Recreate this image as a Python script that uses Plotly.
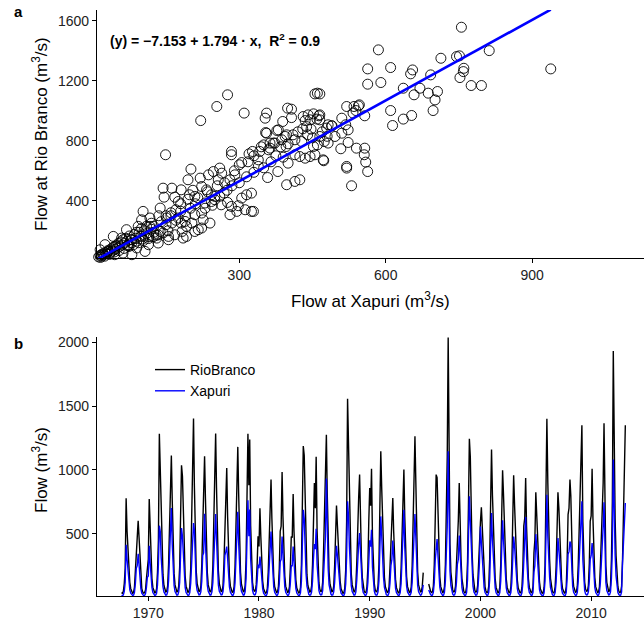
import pandas as pd
import plotly.graph_objects as go

# ---------------- Panel a: scatter Rio Branco vs Xapuri ----------------
xapuri_scatter = [
    755, 585, 812, 713, 745, 751, 563, 610, 655, 651, 692, 760, 759, 752, 938, 563, 590, 636, 670, 658,
    687, 706, 701, 697, 775, 796, 610, 614, 636, 653, 520, 544, 539, 557, 533, 510, 518, 489, 479, 496,
    465, 523, 508, 557, 473, 520, 559, 563, 530, 465, 465, 465,
    455, 460, 276, 254, 221, 310, 356, 353, 399, 407, 407, 389, 441, 452, 463, 459, 435, 447, 482, 490,
    535, 546, 354, 377, 397, 387, 414, 428, 363, 373, 342, 327, 284, 284, 320, 339, 305, 339, 358, 379,
    390, 400, 414, 424, 435, 445, 455, 452, 460, 474, 482, 510, 523, 540, 556, 520, 472, 397, 414, 424,
    149, 201, 195, 220, 237, 247, 260, 264, 257, 281, 291, 144, 162, 181, 146, 168, 175, 198, 209, 223,
    233, 243, 250, 263, 269, 276, 284, 298, 305, 315, 325, 295, 312, 325, 281, 329,
    69, 93, 103, 117, 138, 117, 138, 151, 162, 175, 181, 192, 183, 203, 209, 223, 226, 240, 216, 192,
    42, 59, 80, 100, 25, 15, 45, 73, 90, 114, 134, 155, 168, 107, 32, 62, 80, 18, 45, 100,
    189, 230, 243, 250, 209, 223, 185, 131, 155,
    356, 370, 350, 363, 380, 394, 396, 445, 431, 438,
    12, 15, 18, 20, 22, 25, 28, 30, 32, 35, 38, 40, 42, 45, 48, 50, 52, 55, 58, 60,
    62, 65, 68, 70, 72, 75, 78, 80, 85, 88, 90, 95, 98, 102, 105, 110, 115, 120, 125, 130,
    16, 24, 34, 44, 54, 64, 74, 84, 94, 104, 114, 124, 134, 144, 154, 140, 150, 160, 170, 180,
    190, 200, 210, 125, 135,
    215, 235, 255, 270, 290, 300, 318, 330, 345, 360, 375, 385, 400, 410, 420, 430, 440, 450, 470, 480,
    230, 245, 260, 275, 285, 300, 315, 330, 350, 365, 180, 195, 205, 170, 160, 150, 120, 110, 100, 90,
]
riobranco_scatter = [
    1558, 1407, 1402, 1351, 1362, 1367, 1280, 1289, 1273, 1247, 1240, 1284, 1262, 1222, 1280, 1178, 1189, 1151, 1151, 1107,
    1118, 1129, 1073, 1002, 1169, 1169, 1002, 902, 945, 969, 1029, 1033, 1002, 967, 985, 951, 907, 900, 885, 829,
    829, 789, 747, 751, 667, 629, 658, 595, 500, 973, 940, 1113,
    1113, 1118, 1107, 1029, 935, 985, 985, 951, 1018, 1011, 955, 929, 973, 980, 967, 945, 935, 878, 907, 900,
    1029, 1040, 855, 869, 840, 807, 807, 795, 785, 785, 729, 729, 729, 707, 713, 673, 655, 629, 555, 595,
    691, 651, 707, 695, 684, 695, 707, 762, 773, 795, 785, 851, 873, 751, 707, 618, 673, 507, 529, 540,
    707, 611, 540, 551, 573, 595, 618, 584, 540, 540, 573, 484, 484, 473, 424, 424, 395, 440, 429, 495,
    473, 440, 407, 373, 451, 389, 362, 367, 418, 440, 451, 329, 340, 329, 307, 329,
    207, 229, 329, 285, 351, 229, 195, 285, 251, 285, 251, 229, 195, 251, 307, 318, 273, 251, 207, 162,
    162, 151, 140, 162, 107, 73, 95, 107, 85, 107, 118, 140, 173, 62, 62, 51, 40, 40, 40, 273,
    262, 385, 395, 429, 195, 218, 151, 151, 162,
    851, 785, 773, 751, 873, 829, 762, 940, 962, 895,
    25, 35, 30, 45, 38, 55, 48, 60, 70, 52, 80, 65, 90, 75, 100, 85, 115, 95, 125, 105,
    140, 118, 150, 130, 100, 165, 140, 120, 175, 150, 130, 190, 165, 145, 200, 180, 160, 210, 190, 170,
    22, 30, 42, 58, 68, 82, 95, 108, 120, 135, 148, 160, 172, 185, 200, 260, 240, 300, 270, 330,
    300, 350, 380, 230, 300,
    420, 460, 500, 520, 600, 640, 660, 700, 760, 740, 700, 760, 780, 840, 860, 880, 840, 820, 860, 830,
    350, 370, 430, 470, 500, 520, 560, 590, 620, 660, 380, 410, 470, 340, 320, 300, 250, 230, 215, 190,
]
fit_intercept = -7.153
fit_slope = 1.794
fit_r2 = 0.9
scatter_x_ticks = [300, 600, 900]
scatter_y_ticks = [400, 800, 1200, 1600]

# ---------------- Panel b: monthly flow series (from Aug 1967) ----------------
series_start = "1967-08-01"
riobranco_flow = [
    40, 35, 50, 110, 230,                                        # 1967 Aug-Dec
    777, 520, 380, 230, 120, 70, 45, 35, 40, 80, 210, 420,       # 1968
    470, 602, 466, 260, 130, 70, 45, 35, 38, 60, 150, 270,       # 1969
    300, 772, 520, 300, 150, 80, 50, 38, 40, 70, 200, 450,       # 1970
    1283, 1028, 700, 380, 180, 95, 60, 45, 50, 90, 260, 600,     # 1971
    850, 1112, 760, 400, 190, 100, 60, 45, 50, 90, 240, 520,     # 1972
    1036, 950, 620, 330, 170, 90, 55, 42, 48, 85, 230, 560,      # 1973
    900, 1403, 880, 450, 210, 110, 65, 48, 50, 90, 260, 580,     # 1974
    700, 1107, 780, 420, 200, 100, 60, 45, 48, 90, 250, 560,     # 1975
    850, 1285, 860, 450, 210, 110, 65, 48, 50, 95, 270, 600,     # 1976
    832, 1015, 640, 340, 170, 90, 55, 42, 45, 85, 240, 560,      # 1977
    780, 1180, 820, 430, 200, 105, 62, 46, 50, 95, 300, 700,     # 1978
    1283, 880, 1238, 560, 240, 120, 70, 50, 52, 100, 260, 480,   # 1979
    400, 699, 480, 260, 130, 70, 45, 35, 38, 70, 200, 450,       # 1980
    700, 924, 620, 330, 165, 85, 52, 40, 44, 80, 230, 520,       # 1981
    560, 984, 640, 340, 170, 88, 54, 42, 45, 85, 240, 479,       # 1982
    470, 811, 520, 280, 140, 75, 48, 37, 40, 80, 260, 650,       # 1983
    1186, 1115, 700, 360, 180, 95, 58, 44, 48, 90, 260, 560,     # 1984
    898, 700, 1102, 520, 230, 115, 65, 48, 50, 120, 374, 640,    # 1985
    860, 1275, 820, 420, 200, 105, 62, 46, 50, 90, 250, 500,     # 1986
    722, 560, 420, 250, 130, 70, 45, 34, 38, 75, 220, 600,       # 1987
    1557, 1186, 760, 380, 190, 100, 60, 45, 50, 95, 280, 620,    # 1988
    780, 963, 600, 320, 160, 85, 52, 40, 44, 85, 240, 600,       # 1989
    859, 720, 1008, 480, 220, 110, 62, 46, 50, 90, 260, 620,     # 1990
    1146, 850, 560, 300, 160, 85, 52, 40, 44, 85, 240, 480,      # 1991
    610, 780, 520, 290, 145, 78, 48, 37, 40, 80, 230, 520,       # 1992
    893, 1002, 640, 330, 165, 86, 52, 40, 44, 85, 250, 560,      # 1993
    700, 1264, 919, 420, 200, 100, 60, 45, 48, 90, 196, None,    # 1994
    None, None, None, None, 107, 70, 50, 40, 45, 90, 260, 600,   # 1995
    963, 940, 620, 330, 165, 86, 52, 40, 44, 85, 260, 700,       # 1996
    1100, 2036, 900, 420, 200, 100, 60, 45, 48, 90, 250, 531,    # 1997
    600, 898, 560, 300, 150, 80, 50, 38, 42, 85, 280, 700,       # 1998
    1243, 1100, 700, 360, 180, 95, 58, 44, 48, 95, 300, 450,     # 1999
    589, 707, 560, 320, 160, 85, 52, 40, 44, 90, 300, 700,       # 2000
    1159, 800, 520, 290, 150, 80, 50, 38, 42, 85, 260, 600,      # 2001
    997, 800, 520, 290, 150, 80, 50, 38, 42, 85, 250, 620,       # 2002
    958, 720, 480, 270, 140, 75, 48, 37, 40, 80, 240, 560,       # 2003
    620, 937, 560, 300, 150, 80, 50, 38, 42, 90, 351, 450,       # 2004
    824, 600, 400, 240, 125, 68, 44, 34, 38, 80, 250, 700,       # 2005
    1400, 900, 560, 300, 150, 80, 50, 38, 42, 85, 240, 520,      # 2006
    824, 700, 460, 260, 135, 72, 46, 36, 40, 85, 300, 650,       # 2007
    700, 924, 798, 380, 180, 90, 55, 42, 46, 90, 260, 560,       # 2008
    793, 1000, 1350, 600, 250, 120, 68, 50, 52, 95, 270, 600,    # 2009
    640, 1008, 620, 320, 160, 84, 52, 40, 44, 85, 250, 500,      # 2010
    696, 900, 1364, 600, 250, 120, 68, 50, 52, 95, 300, 750,     # 2011
    1931, 1100, 620, 330, 165, 86, 52, 40, 44, 90, 300, 600,     # 2012
    958, 1350,                                                   # 2013 Jan-Feb
]
xapuri_flow = [
    18, 15, 22, 50, 120,                                         # 1967 Aug-Dec
    414, 300, 210, 120, 60, 35, 22, 18, 20, 40, 110, 230,        # 1968
    250, 343, 263, 150, 70, 35, 22, 16, 18, 30, 80, 160,         # 1969
    170, 406, 280, 160, 80, 40, 25, 18, 20, 35, 100, 260,        # 1970
    563, 518, 320, 180, 85, 45, 28, 20, 22, 45, 130, 350,        # 1971
    450, 702, 420, 200, 95, 48, 28, 20, 22, 45, 120, 300,        # 1972
    545, 480, 310, 160, 80, 40, 25, 18, 20, 40, 115, 300,        # 1973
    380, 584, 530, 250, 110, 55, 30, 22, 24, 45, 130, 330,       # 1974
    350, 657, 430, 210, 100, 50, 28, 20, 22, 45, 120, 310,       # 1975
    400, 655, 460, 220, 100, 50, 30, 22, 24, 48, 130, 330,       # 1976
    360, 400, 310, 170, 85, 42, 25, 18, 20, 40, 115, 300,        # 1977
    360, 673, 430, 210, 100, 50, 28, 20, 22, 48, 150, 420,       # 1978
    762, 480, 690, 300, 120, 58, 32, 22, 24, 48, 130, 260,       # 1979
    230, 322, 250, 140, 70, 35, 22, 16, 18, 35, 100, 250,        # 1980
    330, 518, 350, 180, 85, 42, 25, 18, 20, 40, 110, 280,        # 1981
    300, 479, 340, 175, 85, 42, 25, 18, 20, 40, 115, 250,        # 1982
    250, 400, 280, 150, 72, 36, 22, 16, 18, 38, 130, 330,        # 1983
    688, 620, 380, 190, 90, 45, 26, 19, 21, 44, 130, 300,        # 1984
    420, 380, 539, 260, 110, 55, 30, 22, 24, 55, 180, 330,       # 1985
    480, 932, 520, 230, 100, 50, 28, 20, 22, 45, 120, 260,       # 1986
    406, 330, 240, 140, 70, 35, 22, 16, 18, 36, 110, 320,        # 1987
    754, 640, 400, 200, 95, 48, 28, 20, 22, 45, 140, 320,        # 1988
    420, 505, 330, 170, 82, 40, 24, 18, 20, 40, 120, 320,        # 1989
    450, 400, 531, 240, 105, 52, 28, 20, 22, 45, 130, 330,       # 1990
    636, 480, 300, 160, 80, 40, 24, 18, 20, 40, 115, 250,        # 1991
    300, 448, 300, 160, 75, 38, 23, 17, 19, 38, 110, 290,        # 1992
    479, 688, 400, 190, 90, 45, 26, 19, 21, 42, 120, 280,        # 1993
    400, 655, 479, 210, 95, 46, 26, 19, 22, 45, 100, None,       # 1994
    None, None, None, None, 60, 38, 24, 18, 20, 42, 120, 290,    # 1995
    420, 458, 330, 170, 82, 40, 24, 18, 20, 42, 130, 380,        # 1996
    560, 1146, 480, 210, 95, 48, 28, 20, 22, 45, 120, 260,       # 1997
    300, 487, 310, 160, 78, 38, 23, 17, 19, 40, 140, 380,        # 1998
    793, 600, 380, 190, 90, 45, 26, 19, 21, 45, 150, 280,        # 1999
    557, 420, 322, 170, 80, 40, 24, 18, 20, 42, 140, 340,        # 2000
    662, 450, 300, 160, 78, 38, 23, 17, 19, 40, 130, 300,        # 2001
    605, 450, 300, 160, 78, 38, 23, 17, 19, 40, 120, 300,        # 2002
    479, 400, 280, 150, 72, 36, 22, 16, 18, 38, 115, 290,        # 2003
    400, 631, 330, 170, 80, 40, 24, 18, 20, 42, 200, 250,        # 2004
    497, 360, 240, 130, 65, 33, 20, 15, 17, 38, 130, 420,        # 2005
    806, 480, 300, 160, 78, 38, 23, 17, 19, 40, 120, 270,        # 2006
    466, 380, 260, 140, 68, 34, 21, 16, 18, 40, 150, 340,        # 2007
    360, 440, 420, 190, 88, 42, 25, 18, 20, 42, 130, 290,        # 2008
    400, 560, 754, 300, 120, 55, 30, 22, 24, 45, 130, 300,       # 2009
    330, 427, 330, 170, 80, 40, 24, 18, 20, 40, 120, 260,        # 2010
    350, 560, 746, 300, 120, 55, 30, 22, 24, 45, 150, 380,       # 2011
    1081, 600, 340, 170, 80, 40, 24, 18, 20, 45, 272, 400,       # 2012
    520, 741,                                                    # 2013 Jan-Feb
]
series_y_ticks = [500, 1000, 1500, 2000]
series_year_ticks = [1970, 1980, 1990, 2000, 2010]

# ---------------- figure ----------------
W, H = 644, 621
FONT = "Liberation Sans, Arial, sans-serif"


def fx(p):
    return p / W


def fy(p):
    return 1 - p / H


dates = pd.date_range(series_start, periods=len(riobranco_flow), freq="MS")
fit_x = [min(xapuri_scatter), max(xapuri_scatter)]
fit_y = [fit_intercept + fit_slope * v for v in fit_x]

fig = go.Figure()
fig.add_trace(go.Scatter(
    x=xapuri_scatter, y=riobranco_scatter, mode="markers", showlegend=False,
    marker=dict(symbol="circle-open", size=10, color="black", line=dict(width=0.9)),
    xaxis="x", yaxis="y", cliponaxis=False,
))
fig.add_trace(go.Scatter(
    x=fit_x, y=fit_y, mode="lines", showlegend=False,
    line=dict(color="#0000FF", width=2.6), xaxis="x", yaxis="y",
))
fig.add_trace(go.Scatter(
    x=dates, y=riobranco_flow, mode="lines", name="RioBranco",
    line=dict(color="black", width=1.4), xaxis="x2", yaxis="y2", connectgaps=False,
))
fig.add_trace(go.Scatter(
    x=dates, y=xapuri_flow, mode="lines", name="Xapuri",
    line=dict(color="#0000FF", width=1.4), xaxis="x2", yaxis="y2", connectgaps=False,
))

axis_style = dict(
    showline=True, linecolor="black", linewidth=1.1, ticks="outside", ticklen=4,
    tickwidth=1.1, tickcolor="black", showgrid=False, zeroline=False,
    tickfont=dict(family=FONT, size=14, color="#222222"), automargin=False,
)

fig.update_layout(
    width=W, height=H, margin=dict(l=0, r=0, t=0, b=0),
    paper_bgcolor="white", plot_bgcolor="white",
    font=dict(family=FONT, color="black"),
    xaxis=dict(domain=[fx(97), 1.0], range=[8.6, 1129], tickvals=scatter_x_ticks,
               anchor="y", **axis_style),
    yaxis=dict(domain=[fy(258), fy(10)], range=[18, 1673], tickvals=scatter_y_ticks,
               anchor="x", **axis_style),
    xaxis2=dict(domain=[fx(97), 1.0], range=["1965-05-15", "2014-10-10"],
                tickvals=[f"{y}-01-01" for y in series_year_ticks],
                ticktext=[str(y) for y in series_year_ticks], anchor="y2", **axis_style),
    yaxis2=dict(domain=[fy(596), fy(337)], range=[13, 2040], tickvals=series_y_ticks,
                anchor="x2", **axis_style),
    legend=dict(x=fx(150), y=fy(354), xanchor="left", yanchor="top",
                bgcolor="rgba(0,0,0,0)", font=dict(family=FONT, size=14, color="black"),
                tracegroupgap=0, itemsizing="trace"),
)

eq_text = (f"<b>(y) = −{abs(fit_intercept):.3f} + {fit_slope:.3f} · x,  "
           f"R<sup>2</sup> = {fit_r2}</b>")
ann = [
    dict(text="<b>a</b>", x=fx(12), y=fy(12), xanchor="left", yanchor="middle", font=dict(size=15)),
    dict(text="<b>b</b>", x=fx(12), y=fy(343), xanchor="left", yanchor="middle", font=dict(size=15)),
    dict(text=eq_text, x=fx(108), y=fy(40), xanchor="left", yanchor="middle", font=dict(size=14)),
    dict(text="Flow at Xapuri (m<sup>3</sup>/s)", x=fx(370), y=fy(300), xanchor="center",
         yanchor="middle", font=dict(size=17)),
    dict(text="Flow at Rio Branco (m<sup>3</sup>/s)", x=fx(40), y=fy(134), textangle=-90,
         xanchor="center", yanchor="middle", font=dict(size=17)),
    dict(text="Flow (m<sup>3</sup>/s)", x=fx(40), y=fy(470), textangle=-90,
         xanchor="center", yanchor="middle", font=dict(size=17)),
]
for a in ann:
    a.update(xref="paper", yref="paper", showarrow=False)
    a["font"] = dict(family=FONT, color="black", **a["font"])
fig.update_layout(annotations=ann)

fig.write_html(
    "out.html",
    config={"displayModeBar": False},
    post_script="document.body.style.margin='0';document.body.style.overflow='hidden';",
)
